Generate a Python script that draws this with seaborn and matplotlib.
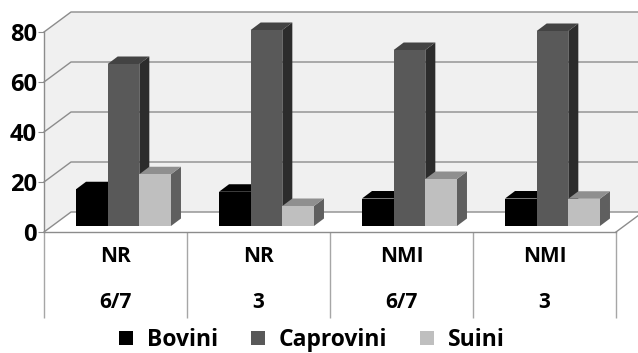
import matplotlib
matplotlib.use('Agg')
import matplotlib.pyplot as plt
import pandas as pd
import seaborn as sns
from matplotlib.patches import Polygon
from matplotlib.transforms import IdentityTransform

classi = ['NR', 'NR', 'NMI', 'NMI']
turni = ['6/7', '3', '6/7', '3']
bovini = [14.7, 13.7, 11, 11]
caprovini = [64.8, 78.4, 70.4, 78]
suini = [20.7, 8, 18.8, 10.9]
y_ticks = [0, 20, 40, 60, 80]

specie = ['Bovini', 'Caprovini', 'Suini']
front_col = ['#000000', '#595959', '#bfbfbf']
side_col = ['#000000', '#2c2c2c', '#5f5f5f']
top_col = ['#000000', '#434343', '#8f8f8f']
grid_col = '#8c8c8c'

plt.rcParams['font.family'] = ['Open Sans', 'DejaVu Sans']
plt.rcParams['font.weight'] = 'bold'

labels = [f'{c}\n\n{t}' for c, t in zip(classi, turni)]
df = pd.DataFrame({'gruppo': labels, 'Bovini': bovini, 'Caprovini': caprovini, 'Suini': suini})
df = df.melt(id_vars='gruppo', var_name='specie', value_name='valore')

W, H = 638, 353
fig = plt.figure(figsize=(W / 100, H / 100), dpi=100)
ax = fig.add_axes([44 / W, (H - 232) / H, 572 / W, 200 / H])
ax.patch.set_visible(False)

sns.barplot(data=df, x='gruppo', y='valore', hue='specie', hue_order=specie,
            palette=front_col, width=0.664, gap=0, saturation=1, ax=ax, zorder=3)
ax.set_xlim(-0.5, 3.5)
ax.set_ylim(0, 80)
ax.set_xlabel('')
ax.set_ylabel('')


def pt(x, y, dx=0, dy=0):
    # data position plus a shift in pixels, for the fake 3d depth
    px, py = ax.transData.transform((x, y))
    return (px + dx, py + dy)


def poly(points, color, z, edge='none'):
    ax.add_patch(Polygon(points, closed=True, facecolor=color, edgecolor=edge, lw=0.6,
                         transform=IdentityTransform(), clip_on=False, zorder=z))


# walls and floor
wall_dx, wall_dy = 27, 20
x0, x1 = -0.5, 3.5
poly([pt(x0, 0), pt(x0, 0, wall_dx, wall_dy), pt(x1, 0, wall_dx, wall_dy), pt(x1, 80, wall_dx, wall_dy),
      pt(x0, 80, wall_dx, wall_dy), pt(x0, 80)], '#f0f0f0', 0)

for t in y_ticks:
    a = pt(x0, t)
    b = pt(x0, t, wall_dx, wall_dy)
    c = pt(x1, t, wall_dx, wall_dy)
    ax.plot([a[0], b[0], c[0]], [a[1], b[1], c[1]], color=grid_col, lw=1,
            transform=IdentityTransform(), clip_on=False, zorder=1)
a = pt(x1, 0)
b = pt(x1, 0, wall_dx, wall_dy)
ax.plot([a[0], b[0]], [a[1], b[1]], color=grid_col, lw=1, transform=IdentityTransform(), clip_on=False, zorder=1)

# separators under the axis
ax.vlines([x0, 0.5, 1.5, 2.5, x1], -34.4, 0, color='#a6a6a6', lw=1, clip_on=False, zorder=1)

# bars: shift the seaborn rectangles back and add side and top faces
bar_dx, bar_dy = 8, 6
depth_dx, depth_dy = 10, 7.5
for i, cont in enumerate(ax.containers):
    z = 3 + i
    for bar in cont:
        xa, xb = bar.get_x(), bar.get_x() + bar.get_width()
        h = bar.get_height()
        bar.set_visible(False)
        fa = pt(xa, 0, bar_dx, bar_dy)
        fb = pt(xb, 0, bar_dx, bar_dy)
        ta = pt(xa, h, bar_dx, bar_dy)
        tb = pt(xb, h, bar_dx, bar_dy)
        poly([fb, tb, (tb[0] + depth_dx, tb[1] + depth_dy), (fb[0] + depth_dx, fb[1] + depth_dy)], side_col[i], z)
        poly([ta, tb, (tb[0] + depth_dx, tb[1] + depth_dy), (ta[0] + depth_dx, ta[1] + depth_dy)], top_col[i], z)
        poly([fa, fb, tb, ta], front_col[i], z + 0.5)

sns.despine(ax=ax, top=True, right=True)
for s in ['left', 'bottom']:
    ax.spines[s].set_color(grid_col)
    ax.spines[s].set_linewidth(1)
ax.set_yticks(y_ticks)
ax.tick_params(axis='y', length=4, color=grid_col, labelsize=17, pad=1)
ax.tick_params(axis='x', length=0, labelsize=15, pad=10)
for lab in ax.get_xticklabels() + ax.get_yticklabels():
    lab.set_fontweight('bold')
for lab in ax.get_xticklabels():
    lab.set_linespacing(1.12)

handles = ax.get_legend().legend_handles
ax.get_legend().remove()
fig.legend(handles, specie, ncol=3, frameon=False, loc='center', bbox_to_anchor=(312 / W, (H - 340) / H),
           prop={'weight': 'bold', 'size': 16.5}, handlelength=0.6, handleheight=0.6,
           handletextpad=0.6, columnspacing=1.45)

fig.savefig('out.png', dpi=100)
